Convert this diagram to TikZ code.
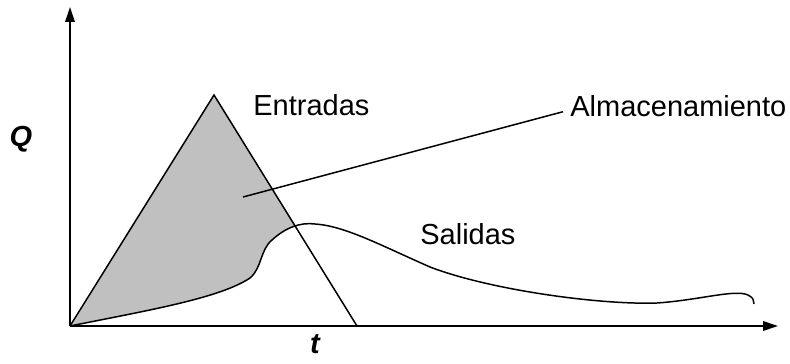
\documentclass[tikz,border=0pt]{standalone}
\usepackage{fontspec}
\setmainfont{Liberation Sans}
\usetikzlibrary{arrows.meta}
\definecolor{storegray}{RGB}{192,192,192}
\newcommand{\outflow}{(O) .. controls (150,310) and (220,298) .. (250,278)
            .. controls (262,268) and (260,250) .. (272,240)
            .. controls (285,228) and (300,222) .. (315,224)
            .. controls (345,226) and (380,245) .. (430,267)
            .. controls (490,290) and (600,305) .. (657,303)
            .. controls (700,300) and (735,289) .. (748,295)
            .. controls (753,298) .. (754,304)}

\begin{document}
\begin{tikzpicture}[x=0.02cm, y=-0.02cm,
        lbl/.style = {inner sep=0pt, font=\fontsize{16.5}{20}\selectfont},
        axlbl/.style = {inner sep=0pt, font=\fontsize{16.5}{20}\selectfont\bfseries\itshape},
        axis/.style = {line width=1.1pt, -{Triangle[length=0.3cm, width=0.19cm]}},
        curve/.style = {line width=0.85pt}]
    \useasboundingbox (0,0) rectangle (790,364);
    \coordinate (O) at (70,326);
    \coordinate (ytip) at (70,7);
    \coordinate (xtip) at (778,326);
    \coordinate (top) at (214,95);
    \coordinate (end) at (357,326);
    \coordinate (stor) at (243,197);
    % storage area
    \begin{scope}
        \clip (O) -- (top) -- (end) -- cycle;
        \fill[storegray] \outflow -- (760,0) -- (0,0) -- cycle;
    \end{scope}
    % hydrographs
    \draw[curve] (O) -- (top) -- (end);
    \draw[curve] \outflow;
    \draw[axis] (O) -- (ytip);
    \draw[axis] (O) -- (xtip);
    % labels
    \node[axlbl, anchor=base] (Q) at (21,147) {Q};
    \node[axlbl, anchor=base] (t) at (315,353) {t};
    \node[lbl, anchor=base west] (in) at (253,116) {Entradas};
    \node[lbl, anchor=base west] (out) at (420,245) {Salidas};
    \node[lbl, inner xsep=4pt, anchor=base west] (almac) at (563,117) {Almacenamiento};
    \draw[curve] (stor) -- ([yshift=3pt]almac.base west);
\end{tikzpicture}
\end{document}
